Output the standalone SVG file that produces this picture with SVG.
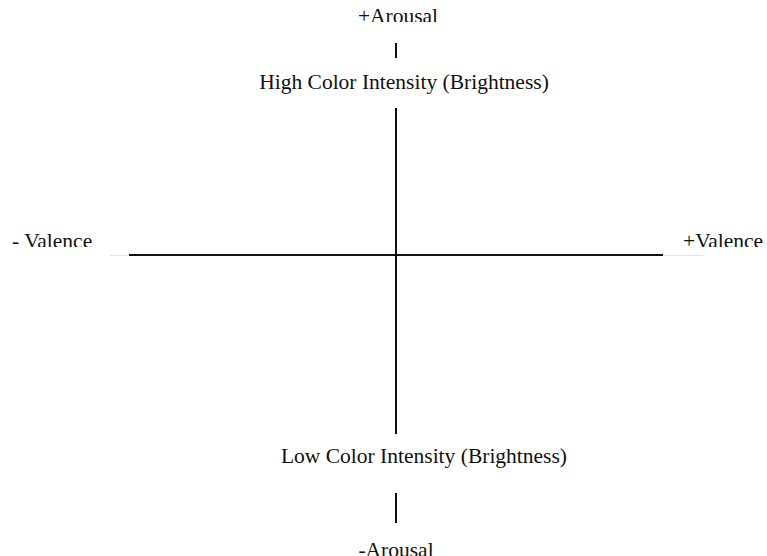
<svg xmlns="http://www.w3.org/2000/svg" width="767" height="556" viewBox="0 0 767 556">
<style>
.t{font-family:"Liberation Serif","Times New Roman",serif;font-size:21.5px;fill:#111;}
.ax{stroke:#111;stroke-width:2;fill:none;}
.faint{stroke:#e4e4e4;stroke-width:1;fill:none;}
</style>
<defs>
<clipPath id="clipTop"><rect x="0" y="0" width="767" height="22"/></clipPath>
<clipPath id="clipMid"><rect x="0" y="220" width="767" height="27"/></clipPath>
</defs>
<rect width="767" height="556" fill="#fff"/>
<g id="connectors">
<line class="faint" x1="110" y1="255.5" x2="129" y2="255.5"/>
<line class="faint" x1="663" y1="255.5" x2="703" y2="255.5"/>
<line class="ax" x1="129" y1="255" x2="663" y2="255"/>
<line class="ax" x1="396" y1="108" x2="396" y2="434"/>
<line class="ax" x1="396" y1="43" x2="396" y2="58"/>
<line class="ax" x1="396" y1="493" x2="396" y2="523"/>
</g>
<g id="plus-arousal" clip-path="url(#clipTop)"><text class="t" x="398" y="23" text-anchor="middle">+Arousal</text></g>
<g id="high-intensity"><text class="t" x="404" y="89" text-anchor="middle">High Color Intensity (Brightness)</text></g>
<g id="minus-valence" clip-path="url(#clipMid)"><text class="t" x="12" y="248">- Valence</text></g>
<g id="plus-valence" clip-path="url(#clipMid)"><text class="t" x="683" y="248">+Valence</text></g>
<g id="low-intensity"><text class="t" x="424" y="463" text-anchor="middle">Low Color Intensity (Brightness)</text></g>
<g id="minus-arousal"><text class="t" x="396" y="557" text-anchor="middle">-Arousal</text></g>
</svg>
